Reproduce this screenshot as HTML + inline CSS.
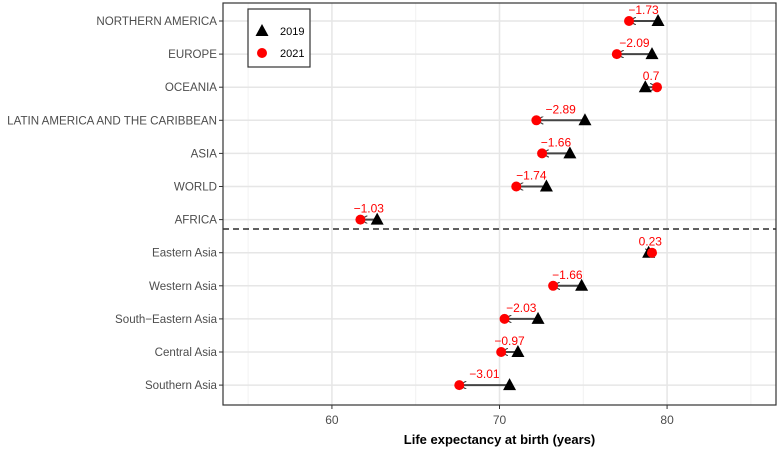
<!DOCTYPE html>
<html><head><meta charset="utf-8"><style>
body{margin:0;background:#fff}
svg text{font-family:"Liberation Sans",sans-serif}
</style></head><body>
<svg id="c" width="777" height="449"></svg>
<script>
const regions=["NORTHERN AMERICA","EUROPE","OCEANIA","LATIN AMERICA AND THE CARIBBEAN","ASIA","WORLD","AFRICA","Eastern Asia","Western Asia","South\u2212Eastern Asia","Central Asia","Southern Asia"];
const v2019=[79.46,79.1,78.7,75.1,74.2,72.8,62.7,78.9,74.9,72.3,71.1,70.6];
const v2021=[77.73,77.0,79.4,72.2,72.54,71.0,61.7,79.1,73.2,70.3,70.1,67.6];
const changes=["\u22121.73","\u22122.09","0.7","\u22122.89","\u22121.66","\u22121.74","\u22121.03","0.23","\u22121.66","\u22122.03","\u22120.97","\u22123.01"];
const xTicks=[60,70,80];
const xMinor=[55,65,75,85];
const L=223,R=776,T=3,B=405,X0=53.5,X1=86.5;
const sx=v=>L+(v-X0)/(X1-X0)*(R-L);
const sy=i=>21+i*33.1;
const svg=document.getElementById('c');const NS="http://www.w3.org/2000/svg";
function mk(t,a,p){const e=document.createElementNS(NS,t);for(const k in a)e.setAttribute(k,a[k]);(p||svg).appendChild(e);return e;}
const defs=mk('defs',{});
const mrk=mk('marker',{id:'ah',markerWidth:8,markerHeight:8,refX:7,refY:4,orient:'auto',markerUnits:'userSpaceOnUse'},defs);
mk('path',{d:'M0,0 L7,4 L0,8',fill:'none',stroke:'#444','stroke-width':1.2},mrk);
xMinor.forEach(v=>{const l=mk('line',{x1:sx(v),x2:sx(v),y1:T,y2:B,stroke:'#f2f2f2','stroke-width':1});});
xTicks.forEach(v=>{const l=mk('line',{x1:sx(v),x2:sx(v),y1:T,y2:B,stroke:'#e6e6e6','stroke-width':1.5});
const t=mk('text',{x:sx(v),y:B+19,'text-anchor':'middle','font-size':12,fill:'#4d4d4d'});t.textContent=v;
mk('line',{x1:sx(v),x2:sx(v),y1:B,y2:B+4,stroke:'#333'});});
regions.forEach((r,i)=>{const y=sy(i);
const g=mk('line',{x1:L,x2:R,y1:y,y2:y,stroke:'#e6e6e6','stroke-width':1.5});
mk('line',{x1:L-4,x2:L,y1:y,y2:y,stroke:'#333'});
const t=mk('text',{x:0,y:0,'text-anchor':'end','font-size':12,fill:'#4d4d4d',transform:`translate(${L-6},${y+4}) scale(0.965,1)`});t.textContent=r;
const a=sx(v2019[i]),b=sx(v2021[i]);
const ar=mk('line',{x1:a,x2:b,y1:y,y2:y,stroke:'#444','stroke-width':2,'marker-end':'url(#ah)'});
const tri=mk('path',{d:`M${a},${y-7} L${a+6.5},${y+5} L${a-6.5},${y+5} Z`,fill:'#000'});
const c=mk('circle',{cx:b,cy:y,r:5,fill:'#f00'});
const lt=mk('text',{x:(a+b)/2,y:y-7,'text-anchor':'middle','font-size':12,fill:'#f00'});lt.textContent=changes[i];
});
const d=mk('line',{x1:L,x2:R,y1:229,y2:229,stroke:'#000','stroke-dasharray':'6,4','stroke-width':1.2});
const fr=mk('rect',{x:L,y:T,width:R-L,height:B-T,fill:'none',stroke:'#333','stroke-width':1.2});
const lg=mk('g',{});
mk('rect',{x:248,y:9,width:62,height:58,fill:'#fff',stroke:'#333','stroke-width':1.2},lg);
mk('path',{d:'M262,24 L268.5,36 L255.5,36 Z',fill:'#000'},lg);
mk('circle',{cx:262,cy:53,r:5,fill:'#f00'},lg);
const l1=mk('text',{x:280,y:35,'font-size':11,fill:'#000'},lg);l1.textContent='2019';
const l2=mk('text',{x:280,y:57,'font-size':11,fill:'#000'},lg);l2.textContent='2021';
const xt=mk('text',{x:(L+R)/2,y:B+39,'text-anchor':'middle','font-size':13,'font-weight':'bold',fill:'#000'});xt.textContent='Life expectancy at birth (years)';
</script></body></html>
